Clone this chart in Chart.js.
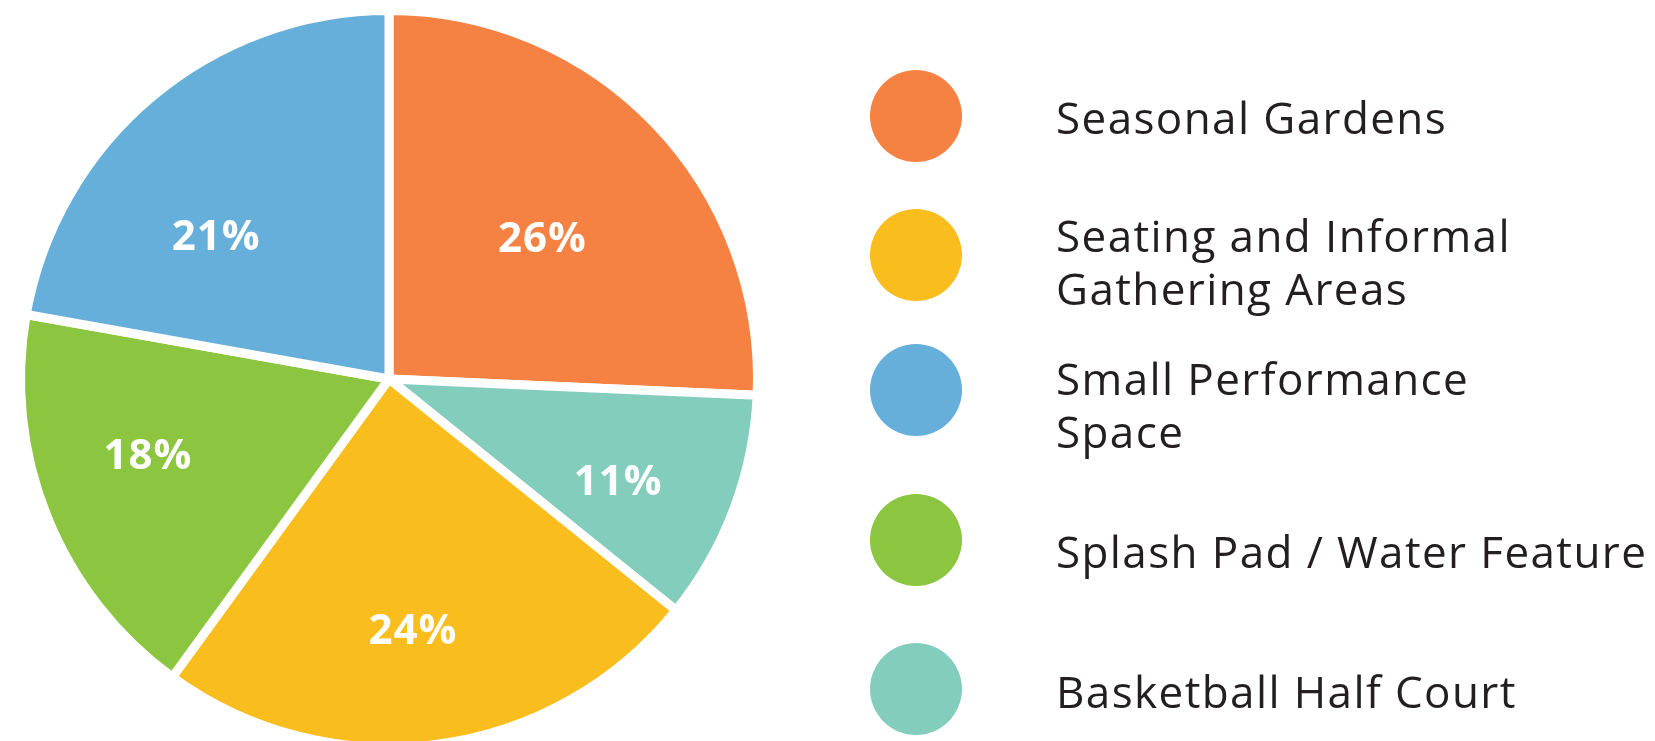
<!DOCTYPE html>
<html>
<head>
<meta charset="utf-8">
<script src="https://cdn.jsdelivr.net/npm/chart.js@4.4.1/dist/chart.umd.min.js"></script>
<style>
  html, body { margin: 0; padding: 0; background: #fff; overflow: hidden; }
  #wrap { position: relative; width: 1655px; height: 741px; }
</style>
</head>
<body>
<div id="wrap"><canvas id="pie"></canvas></div>
<script>
// slices, clockwise from the top
const labels = ['Seasonal Gardens', 'Basketball Half Court', ['Seating and Informal', 'Gathering Areas'], 'Splash Pad / Water Feature', ['Small Performance', 'Space']];
// share of each slice as drawn
const values = [25.7, 10.1, 24.2, 17.8, 22.2];
// percentages printed on the slices
const pctLabels = ['26%', '11%', '24%', '18%', '21%'];
const colors = ['#F58242', '#83CDBD', '#F9BD1E', '#8CC640', '#66AFDB'];
// order of the legend rows (index into labels)
const legendOrder = [0, 2, 4, 3, 1];

// % text placement: fraction of radius, and turn (degrees) off the slice middle
const labelRadius = [0.565, 0.681, 0.684, 0.686, 0.608];
const labelTurn = [1.2, 3.3, 2.1, 4.5, -10.5];
// legend layout
const legendCircleY = [116, 255, 390, 540, 689];
const legendBaseY = [134, 252, 395, 568, 708];

const pctPlugin = {
  id: 'pctLabels',
  afterDatasetsDraw(chart) {
    const ctx = chart.ctx;
    const meta = chart.getDatasetMeta(0);
    ctx.save();
    ctx.fillStyle = '#fff';
    ctx.font = 'bold 42px "Open Sans"';
    ctx.letterSpacing = '1px';
    ctx.textAlign = 'center';
    ctx.textBaseline = 'middle';
    meta.data.forEach((arc, i) => {
      const p = arc.getProps(['x', 'y', 'startAngle', 'endAngle', 'outerRadius'], true);
      const mid = (p.startAngle + p.endAngle) / 2 + labelTurn[i] * Math.PI / 180;
      const r = p.outerRadius * labelRadius[i];
      ctx.fillText(pctLabels[i], p.x + Math.cos(mid) * r, p.y + Math.sin(mid) * r + 2);
    });
    ctx.restore();
  }
};

const legendPlugin = {
  id: 'sideLegend',
  afterDraw(chart) {
    const ctx = chart.ctx;
    ctx.save();
    legendOrder.forEach((idx, row) => {
      ctx.fillStyle = colors[idx];
      ctx.beginPath();
      ctx.arc(916, legendCircleY[row], 46, 0, Math.PI * 2);
      ctx.fill();
      const lines = Array.isArray(labels[idx]) ? labels[idx] : [labels[idx]];
      ctx.fillStyle = '#231F20';
      ctx.font = '44px "Open Sans"';
      ctx.letterSpacing = '1.4px';
      ctx.textAlign = 'left';
      ctx.textBaseline = 'alphabetic';
      lines.forEach((t, j) => {
        ctx.fillText(t, 1056, legendBaseY[row] + j * 52.5);
      });
    });
    ctx.restore();
  }
};

new Chart(document.getElementById('pie'), {
  type: 'pie',
  data: {
    labels: labels,
    datasets: [{
      data: values,
      backgroundColor: colors,
      borderColor: '#fff',
      borderWidth: 9,
      radius: 368.5
    }]
  },
  options: {
    responsive: true,
    maintainAspectRatio: false,
    animation: false,
    layout: { padding: { left: 0, right: 877, top: 17, bottom: 0 } },
    plugins: {
      legend: { display: false },
      tooltip: { enabled: false }
    }
  },
  plugins: [pctPlugin, legendPlugin]
});
</script>
</body>
</html>
